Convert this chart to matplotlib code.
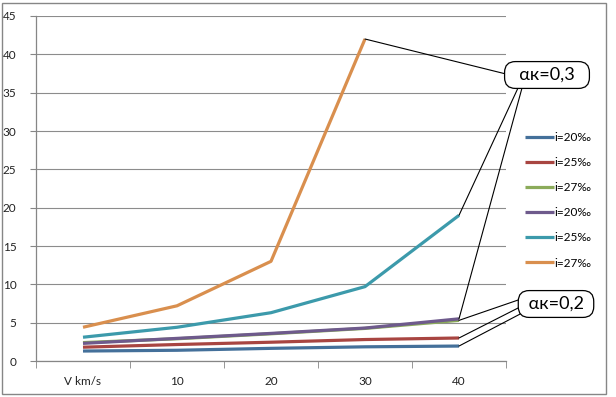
import matplotlib
matplotlib.use("Agg")
import matplotlib.pyplot as plt
from matplotlib.patches import Rectangle

plt.rcParams['font.family'] = ['Lato', 'DejaVu Sans']

categories = ["V km/s", "10", "20", "30", "40"]
labels = ["i=20‰", "i=25‰", "i=27‰", "i=20‰", "i=25‰", "i=27‰"]
s_blue = [1.3, 1.4, 1.65, 1.85, 1.95]
s_red = [1.8, 2.15, 2.45, 2.8, 3.0]
s_green = [2.4, 2.9, 3.55, 4.25, 5.3]
s_purple = [2.3, 2.95, 3.6, 4.3, 5.5]
s_teal = [3.1, 4.4, 6.3, 9.7, 19.0]
s_orange = [4.4, 7.2, 13.0, 42.0]
series = [s_blue, s_red, s_green, s_purple, s_teal, s_orange]
colors = ["#44709a", "#a84541", "#8bab5a", "#6e5a8c", "#3c9aab", "#d98f4e"]

W, H = 616, 397
fig = plt.figure(figsize=(W/100, H/100), dpi=100)
ax = fig.add_axes([36/W, 1-361/H, (506-36)/W, (361-16)/H])

handles = []
for s, c, lab in zip(series, colors, labels):
    h, = ax.plot(range(len(s)), s, color=c, lw=2.3, solid_capstyle='butt', label=lab)
    handles.append(h)

ax.set_xlim(-0.5, len(categories)-0.5)
ax.set_ylim(0, 45)
ax.set_yticks(range(0, 46, 5))
ax.set_xticks(range(len(categories)))
ax.set_xticklabels(categories)
ax.set_xticks([i-0.5 for i in range(len(categories)+1)], minor=True)
ax.tick_params(axis='x', which='major', length=0, pad=11, labelsize=8.5, colors='#222222')
ax.tick_params(axis='x', which='minor', length=5, color='#868686', direction='out')
ax.tick_params(axis='y', length=4, color='#868686', labelsize=8.5, colors='#222222', pad=10)
ax.yaxis.grid(True, color='#8c8c8c', lw=0.8)
ax.set_axisbelow(True)
for sp in ['top', 'right']:
    ax.spines[sp].set_visible(False)
for sp in ['left', 'bottom']:
    ax.spines[sp].set_color('#868686')
    ax.spines[sp].set_linewidth(0.9)

leg = fig.legend(handles=handles, labels=labels, loc='upper left',
                 bbox_to_anchor=(520/W, 1-127/H), frameon=False, fontsize=8.5,
                 handlelength=2.5, handletextpad=0.05, labelspacing=1.2,
                 borderaxespad=0)

def box(cx, cy, text, size):
    fig.text(cx/W, 1-cy/H, text, ha='center', va='center', fontsize=size,
             bbox=dict(boxstyle='round,pad=0.3,rounding_size=0.6', fc='white', ec='black', lw=0.9),
             zorder=10)

def leader(x, y, px, py):
    ax.annotate('', xy=(x, y), xycoords='data', xytext=(px, H-py), textcoords='figure pixels',
                arrowprops=dict(arrowstyle='-', color='black', lw=0.8, shrinkA=0, shrinkB=0),
                annotation_clip=False)

leader(3, s_orange[3], 506, 74)
leader(4, s_teal[4], 518, 88)
leader(4, s_purple[4], 522, 88)
leader(4, s_green[4], 524, 298)
leader(4, s_red[4], 524, 305)
leader(4, s_blue[4], 524, 312)

box(547, 75, "  αк=0,3  ", 13)
box(556, 304, " αк=0,2 ", 13)

fig.add_artist(Rectangle((2/W, 3/H), 604/W, 391/H, transform=fig.transFigure,
                         fill=False, ec='#868686', lw=1.0))

fig.savefig("out.png", dpi=100)
